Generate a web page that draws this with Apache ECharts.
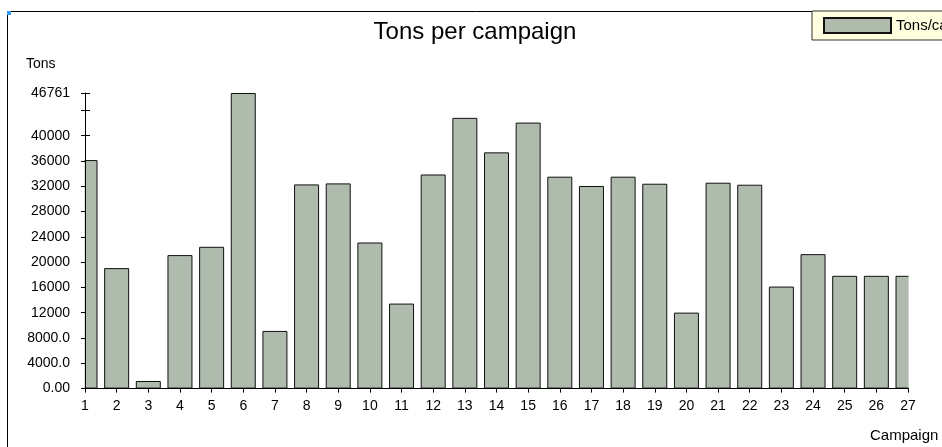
<!DOCTYPE html>
<html>
<head>
<meta charset="utf-8">
<script src="https://cdn.jsdelivr.net/npm/echarts@6/dist/echarts.min.js"></script>
<style>
html,body{margin:0;padding:0;background:#fff;}
#chart{width:942px;height:447px;}
</style>
</head>
<body>
<div id="chart"></div>
<script>
var campaigns = [1,2,3,4,5,6,7,8,9,10,11,12,13,14,15,16,17,18,19,20,21,22,23,24,25,26,27];
var tons = [36150,19060,1200,21120,22430,46761,9120,32300,32460,23110,13450,33870,42830,37370,42080,33520,32050,33520,32410,12020,32570,32250,16140,21270,17840,17840,17840];
var yTickValues = [0,4000,8000,12000,16000,20000,24000,28000,32000,36000,40000,44000,46761];
var yTickLabels = ['0.00','4000.0','8000.0','12000','16000','20000','24000','28000','32000','36000','40000','','46761'];
var xTickLabels = ['1','2','3','4','5','6','7','8','9','10','11','12','13','14','15','16','17','18','19','20','21','22','23','24','25','26','27'];

var FONT = 'Liberation Sans, Arial, sans-serif';
var yMax = 46761;

function yLabel(v){
  for (var i=0;i<yTickValues.length;i++){ if (Math.abs(yTickValues[i]-v)<0.5) return yTickLabels[i]; }
  return '';
}
function xLabel(v){
  var i = campaigns.indexOf(Math.round(v));
  return i>=0 ? xTickLabels[i] : '';
}

var chart = echarts.init(document.getElementById('chart'), null, {renderer:'canvas'});
chart.setOption({
  animation:false,
  backgroundColor:'#fff',
  title:{
    text:'Tons per campaign', left:470, top:15, textAlign:'center',
    textStyle:{fontFamily:FONT, fontSize:24, fontWeight:'normal', color:'#000'}
  },
  legend:{
    left:812, top:11, orient:'horizontal', z:20,
    padding:[6,60,6,11],
    itemWidth:67, itemHeight:15,
    icon:'rect',
    backgroundColor:'#ffffe0', borderColor:'#333', borderWidth:1,
    textStyle:{fontFamily:FONT, fontSize:15, color:'#000'},
    data:['Tons/campaign']
  },
  grid:{left:85, right:34, top:93, bottom:58.4, containLabel:false},
  xAxis:{
    type:'value', min:1, max:27, interval:1, z:10,
    axisLine:{show:true, lineStyle:{color:'#000', width:1}},
    axisTick:{show:true, length:4, lineStyle:{color:'#000'}},
    axisLabel:{formatter:xLabel, margin:11, fontFamily:FONT, fontSize:14, color:'#000'},
    splitLine:{show:false}
  },
  yAxis:[{
    type:'value', min:0, max:yMax, interval:4000, z:10,
    axisLine:{show:true, lineStyle:{color:'#000', width:1}},
    axisTick:{show:true, length:4, lineStyle:{color:'#000'}},
    axisLabel:{formatter:yLabel, margin:15, fontFamily:FONT, fontSize:14, color:'#000'},
    splitLine:{show:false}
  },{
    type:'value', min:0, max:yMax, interval:4000, position:'left', z:0,
    axisLine:{show:false},
    axisTick:{show:true, inside:true, length:5, lineStyle:{color:'#000'}},
    axisLabel:{show:false},
    splitLine:{show:false}
  }],
  graphic:[
    {type:'rect', z:-1, shape:{x:7.5, y:11.5, width:1200, height:1000}, style:{fill:'none', stroke:'#000', lineWidth:1}},
    {type:'rect', z:5, shape:{x:72, y:90, width:12.6, height:300}, style:{fill:'#fff'}},
    {type:'rect', z:5, shape:{x:908.6, y:90, width:40, height:300}, style:{fill:'#fff'}},
    {type:'rect', z:30, shape:{x:7, y:11, width:4, height:4}, style:{fill:'#3399ff'}},
    {type:'text', left:26, top:57, style:{text:'Tons', font:'14px Liberation Sans, Arial, sans-serif', fill:'#000'}},
    {type:'text', left:870, top:428, style:{text:'Campaign', font:'15px Liberation Sans, Arial, sans-serif', fill:'#000'}}
  ],
  series:[{
    name:'Tons/campaign', type:'bar', clip:true, z:2,
    barWidth:25,
    itemStyle:{color:'#aebbad', borderColor:'#111', borderWidth:1},
    data: campaigns.map(function(c,i){ return [c, tons[i]]; })
  }]
});
</script>
</body>
</html>
